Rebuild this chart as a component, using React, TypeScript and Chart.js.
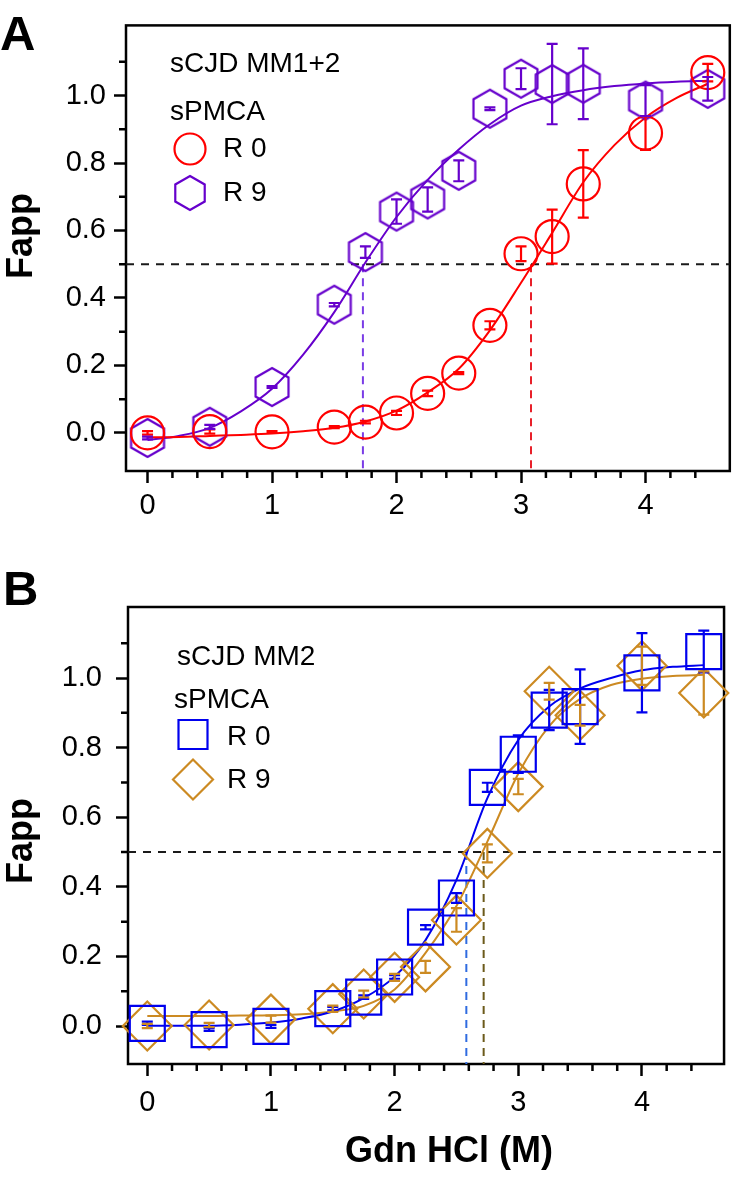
import React, { useEffect, useRef } from 'react';
import { Chart, registerables } from 'chart.js';

Chart.register(...registerables);

// ---------------- data ----------------
const GDN_HCL = [0, 0.5, 1, 1.5, 1.75, 2, 2.25, 2.5, 2.75, 3, 3.25, 3.5, 4, 4.5];
const FIT_X = [0, 0.25, 0.5, 0.75, 1, 1.25, 1.5, 1.75, 2, 2.25, 2.5, 2.75, 3, 3.25, 3.5, 3.75, 4, 4.25, 4.5];

const X_TICKS = [0, 1, 2, 3, 4];
const X_MINOR = [0.2, 0.4, 0.6, 0.8, 1.2, 1.4, 1.6, 1.8, 2.2, 2.4, 2.6, 2.8, 3.2, 3.4, 3.6, 3.8, 4.2, 4.4];
const Y_TICKS = [0, 0.2, 0.4, 0.6, 0.8, 1.0];
const Y_MINOR = [0.1, 0.3, 0.5, 0.7, 0.9, 1.1];
const HALF = 0.5;

// Panel A: sCJD MM1+2
const A_R0 = [0.0, 0.004, 0.003, 0.017, 0.032, 0.059, 0.117, 0.177, 0.319, 0.531, 0.582, 0.738, 0.889, 1.068];
const A_R0_ERR = [0.005, 0.006, 0.002, 0.003, 0.004, 0.006, 0.008, 0.003, 0.012, 0.022, 0.08, 0.1, 0.05, 0.026];
const A_R9 = [-0.015, 0.018, 0.136, 0.38, 0.536, 0.656, 0.692, 0.777, 0.961, 1.05, 1.034, 1.035, 0.985, 1.02];
const A_R9_ERR = [0.004, 0.006, 0.003, 0.005, 0.017, 0.036, 0.036, 0.031, 0.004, 0.031, 0.119, 0.105, 0.046, 0.035];
const A_R0_FIT = [-0.013, -0.012, -0.009, -0.006, -0.002, 0.005, 0.015, 0.034, 0.066, 0.12, 0.19, 0.304, 0.445, 0.593, 0.743, 0.853, 0.935, 0.993, 1.035];
const A_R9_FIT = [-0.021, -0.009, 0.015, 0.064, 0.131, 0.232, 0.358, 0.505, 0.64, 0.75, 0.84, 0.915, 0.97, 0.998, 1.016, 1.028, 1.036, 1.041, 1.044];
const A_MIDPOINTS = [3.08, 1.73];

// Panel B: sCJD MM2
const B_R0 = [0.008, -0.01, -0.001, 0.05, 0.083, 0.141, 0.284, 0.368, 0.686, 0.781, 0.908, 0.918, 1.015, 1.076];
const B_R0_ERR = [0.005, 0.004, 0.004, 0.005, 0.005, 0.005, 0.006, 0.014, 0.013, 0.054, 0.058, 0.107, 0.114, 0.06];
const B_R9 = [0.0, 0.003, 0.02, 0.05, 0.092, 0.14, 0.17, 0.305, 0.496, 0.688, 0.962, 0.893, 1.035, 0.957];
const B_R9_ERR = [0.006, 0.006, 0.01, 0.009, 0.01, 0.01, 0.017, 0.034, 0.026, 0.022, 0.024, 0.03, 0.055, 0.062];
const B_R0_FIT = [0.001, 0.001, 0.001, 0.004, 0.01, 0.022, 0.042, 0.08, 0.142, 0.247, 0.42, 0.655, 0.822, 0.918, 0.97, 1.0, 1.022, 1.032, 1.037];
const B_R9_FIT = [0.029, 0.029, 0.029, 0.03, 0.031, 0.034, 0.042, 0.058, 0.105, 0.21, 0.345, 0.53, 0.725, 0.862, 0.94, 0.98, 0.998, 1.006, 1.009];
const B_MIDPOINTS = [2.58, 2.72];

// ---------------- styles ----------------
const FONT = "'Liberation Sans', Arial, Helvetica, sans-serif";
const TICK_SIZE = 29;
const RED = '#ff0000';
const PURPLE = '#6600cc';
const BLUE = '#0000ee';
const GOLD = '#cc8a22';

Chart.defaults.font.family = FONT;
Chart.defaults.font.size = TICK_SIZE;
Chart.defaults.color = '#000';

type Marker = 'circle' | 'hex' | 'rect' | 'diamond';

interface Series {
  label: string;
  y: number[];
  err: number[];
  fit: number[];
  mid: number;
  color: string;
  dashColor: string;
  marker: Marker;
  size: number;
}

interface TextItem {
  t: string; x: number; y: number; font: string;
  align?: CanvasTextAlign; baseline?: CanvasTextBaseline; rotate?: number;
}

interface LegendMark { marker: Marker; color: string; x: number; y: number; size: number; }

interface PanelSpec {
  height: number;
  xMin: number; xMax: number; yMin: number; yMax: number;
  padTop: number; padRight: number; yAxisWidth: number; xAxisHeight: number;
  xTickPad: number; yTickPad: number;
  series: Series[];
  texts: TextItem[];
  legend: LegendMark[];
}

function hexPath(ctx: CanvasRenderingContext2D, cx: number, cy: number, R: number) {
  ctx.beginPath();
  for (let i = 0; i < 6; i++) {
    const a = -Math.PI / 2 + (i * Math.PI) / 3;
    const x = cx + R * Math.cos(a);
    const y = cy + R * Math.sin(a);
    if (i === 0) ctx.moveTo(x, y); else ctx.lineTo(x, y);
  }
  ctx.closePath();
}

function makeHexagon(R: number, color: string, lw: number): HTMLCanvasElement {
  const c = document.createElement('canvas');
  let w = Math.ceil(Math.sqrt(3) * R + lw * 2 + 2);
  let h = Math.ceil(2 * R + lw * 2 + 2);
  if (w % 2) w++;
  if (h % 2) h++;
  c.width = w; c.height = h;
  const ctx = c.getContext('2d')!;
  ctx.strokeStyle = color;
  ctx.lineWidth = lw;
  hexPath(ctx, w / 2, h / 2, R);
  ctx.stroke();
  return c;
}

function drawMarker(ctx: CanvasRenderingContext2D, m: LegendMark) {
  ctx.save();
  ctx.strokeStyle = m.color;
  ctx.lineWidth = 2.2;
  ctx.beginPath();
  if (m.marker === 'circle') {
    ctx.arc(m.x, m.y, m.size, 0, Math.PI * 2);
  } else if (m.marker === 'hex') {
    hexPath(ctx, m.x, m.y, m.size);
  } else if (m.marker === 'rect') {
    ctx.rect(m.x - m.size, m.y - m.size, m.size * 2, m.size * 2);
  } else {
    ctx.moveTo(m.x - m.size, m.y);
    ctx.lineTo(m.x, m.y - m.size);
    ctx.lineTo(m.x + m.size, m.y);
    ctx.lineTo(m.x, m.y + m.size);
    ctx.closePath();
  }
  ctx.stroke();
  ctx.restore();
}

function buildConfig(spec: PanelSpec): any {
  const datasets: any[] = [];
  spec.series.forEach((s) => {
    let pointStyle: any = 'circle';
    let pointRadius = s.size;
    if (s.marker === 'hex') { pointStyle = makeHexagon(s.size, s.color, 2.2); }
    else if (s.marker === 'rect') { pointStyle = 'rect'; pointRadius = s.size / Math.SQRT1_2; }
    else if (s.marker === 'diamond') { pointStyle = 'rectRot'; }
    datasets.push({
      label: s.label,
      data: GDN_HCL.map((x, i) => ({ x, y: s.y[i] })),
      errors: s.err,
      errorColor: s.color,
      showLine: false,
      pointStyle,
      pointRadius,
      pointBorderWidth: 2.2,
      borderColor: s.color,
      pointBorderColor: s.color,
      backgroundColor: 'rgba(0,0,0,0)',
      pointBackgroundColor: 'rgba(0,0,0,0)',
      clip: false,
    });
  });
  spec.series.forEach((s) => {
    datasets.push({
      label: s.label + ' fit',
      data: FIT_X.map((x, i) => ({ x, y: s.fit[i] })),
      showLine: true,
      pointRadius: 0,
      borderColor: s.color,
      borderWidth: 2,
      cubicInterpolationMode: 'monotone',
      fill: false,
    });
  });
  datasets.push({
    label: 'half',
    data: [{ x: spec.xMin, y: HALF }, { x: spec.xMax, y: HALF }],
    showLine: true,
    pointRadius: 0,
    borderColor: '#1a1a1a',
    borderWidth: 2,
    borderDash: [8, 7],
  });
  spec.series.forEach((s) => {
    datasets.push({
      label: s.label + ' midpoint',
      data: [{ x: s.mid, y: HALF }, { x: s.mid, y: spec.yMin }],
      showLine: true,
      pointRadius: 0,
      borderColor: s.dashColor,
      borderWidth: 2,
      borderDash: [8, 6],
    });
  });

  const errorBars = {
    id: 'errorBars',
    afterDatasetsDraw(chart: any) {
      const ctx = chart.ctx as CanvasRenderingContext2D;
      const xs = chart.scales.x;
      const ys = chart.scales.y;
      chart.data.datasets.forEach((ds: any) => {
        if (!ds.errors) return;
        ctx.save();
        ctx.strokeStyle = ds.errorColor;
        ctx.lineWidth = 2.2;
        ds.data.forEach((p: any, i: number) => {
          const e = ds.errors[i];
          const px = xs.getPixelForValue(p.x);
          const y1 = ys.getPixelForValue(p.y + e);
          const y2 = ys.getPixelForValue(p.y - e);
          ctx.beginPath();
          ctx.moveTo(px, y1); ctx.lineTo(px, y2);
          ctx.moveTo(px - 5.5, y1); ctx.lineTo(px + 5.5, y1);
          ctx.moveTo(px - 5.5, y2); ctx.lineTo(px + 5.5, y2);
          ctx.stroke();
        });
        ctx.restore();
      });
    },
  };

  const decor = {
    id: 'decor',
    beforeDatasetsDraw(chart: any) {
      const ctx = chart.ctx as CanvasRenderingContext2D;
      const a = chart.chartArea;
      ctx.save();
      ctx.strokeStyle = '#000';
      ctx.lineWidth = 2.5;
      ctx.strokeRect(a.left, a.top, a.right - a.left, a.bottom - a.top);
      const xs = chart.scales.x;
      const ys = chart.scales.y;
      ctx.beginPath();
      X_MINOR.forEach((v) => {
        const px = xs.getPixelForValue(v);
        ctx.moveTo(px, a.bottom);
        ctx.lineTo(px, a.bottom + 7);
      });
      Y_MINOR.forEach((v) => {
        const py = ys.getPixelForValue(v);
        ctx.moveTo(a.left, py);
        ctx.lineTo(a.left - 7, py);
      });
      ctx.stroke();
      ctx.restore();
    },
    afterDraw(chart: any) {
      const ctx = chart.ctx as CanvasRenderingContext2D;
      ctx.save();
      ctx.fillStyle = '#000';
      spec.texts.forEach((t) => {
        ctx.save();
        ctx.font = t.font;
        ctx.textAlign = t.align || 'left';
        ctx.textBaseline = t.baseline || 'middle';
        ctx.translate(t.x, t.y);
        if (t.rotate) ctx.rotate(t.rotate);
        ctx.fillText(t.t, 0, 0);
        ctx.restore();
      });
      spec.legend.forEach((m) => drawMarker(ctx, m));
      ctx.restore();
    },
  };

  const tickFont = { family: FONT, size: TICK_SIZE, weight: 'normal', lineHeight: 1.2 };

  return {
    type: 'scatter',
    data: { datasets },
    plugins: [decor, errorBars],
    options: {
      responsive: false,
      animation: false,
      events: [],
      font: tickFont,
      layout: { padding: { top: spec.padTop, right: spec.padRight, left: 0, bottom: 0 } },
      plugins: { legend: { display: false }, tooltip: { enabled: false }, title: { display: false } },
      scales: {
        x: {
          type: 'linear',
          min: spec.xMin,
          max: spec.xMax,
          afterBuildTicks: (s: any) => { s.ticks = X_TICKS.map((v) => ({ value: v })); },
          afterFit: (s: any) => { s.height = spec.xAxisHeight; },
          grid: { display: true, drawOnChartArea: false, drawTicks: true, tickLength: 12, tickWidth: 2.5, tickColor: '#000' },
          border: { display: false },
          ticks: {
            color: '#000',
            font: tickFont,
            padding: spec.xTickPad,
            maxRotation: 0,
            minRotation: 0,
            autoSkip: false,
            callback: (v: number) => String(v),
          },
        },
        y: {
          type: 'linear',
          min: spec.yMin,
          max: spec.yMax,
          afterBuildTicks: (s: any) => { s.ticks = Y_TICKS.map((v) => ({ value: v })); },
          afterFit: (s: any) => { s.width = spec.yAxisWidth; },
          grid: { display: true, drawOnChartArea: false, drawTicks: true, tickLength: 12, tickWidth: 2.5, tickColor: '#000' },
          border: { display: false },
          ticks: {
            color: '#000',
            font: tickFont,
            padding: spec.yTickPad,
            autoSkip: false,
            callback: (v: number) => v.toFixed(1),
          },
        },
      },
    },
  };
}

const LEG_FONT = `28px ${FONT}`;
const BOLD_TITLE = `bold 36px ${FONT}`;
const PANEL_FONT = `bold 49px ${FONT}`;

const PANEL_A: PanelSpec = {
  height: 560,
  xMin: -0.173, xMax: 4.677, yMin: -0.113, yMax: 1.208,
  padTop: 14, padRight: 9, yAxisWidth: 126, xAxisHeight: 89,
  xTickPad: 6, yTickPad: 8,
  series: [
    { label: 'R 0', y: A_R0, err: A_R0_ERR, fit: A_R0_FIT, mid: A_MIDPOINTS[0], color: RED, dashColor: '#e8202a', marker: 'circle', size: 16.5 },
    { label: 'R 9', y: A_R9, err: A_R9_ERR, fit: A_R9_FIT, mid: A_MIDPOINTS[1], color: PURPLE, dashColor: '#7a3ce6', marker: 'hex', size: 19 },
  ],
  texts: [
    { t: 'A', x: 0, y: 50, font: PANEL_FONT, baseline: 'alphabetic' },
    { t: 'Fapp', x: 22, y: 236, font: BOLD_TITLE, align: 'center', rotate: -Math.PI / 2 },
    { t: 'sCJD MM1+2', x: 170, y: 64, font: LEG_FONT },
    { t: 'sPMCA', x: 170, y: 112, font: LEG_FONT },
    { t: 'R 0', x: 223, y: 149, font: LEG_FONT },
    { t: 'R 9', x: 223, y: 193, font: LEG_FONT },
  ],
  legend: [
    { marker: 'circle', color: RED, x: 190, y: 149, size: 15.5 },
    { marker: 'hex', color: PURPLE, x: 190, y: 193, size: 17 },
  ],
};

const PANEL_B: PanelSpec = {
  height: 623,
  xMin: -0.156, xMax: 4.664, yMin: -0.109, yMax: 1.204,
  padTop: 47, padRight: 6, yAxisWidth: 128, xAxisHeight: 119,
  xTickPad: 10, yTickPad: 14,
  series: [
    { label: 'R 0', y: B_R0, err: B_R0_ERR, fit: B_R0_FIT, mid: B_MIDPOINTS[0], color: BLUE, dashColor: '#2f6be0', marker: 'rect', size: 17.5 },
    { label: 'R 9', y: B_R9, err: B_R9_ERR, fit: B_R9_FIT, mid: B_MIDPOINTS[1], color: GOLD, dashColor: '#6b5a1a', marker: 'diamond', size: 24.5 },
  ],
  texts: [
    { t: 'B', x: 3, y: 45, font: PANEL_FONT, baseline: 'alphabetic' },
    { t: 'Fapp', x: 22, y: 281, font: BOLD_TITLE, align: 'center', rotate: -Math.PI / 2 },
    { t: 'Gdn HCl (M)', x: 449, y: 592, font: BOLD_TITLE, align: 'center' },
    { t: 'sCJD MM2', x: 177, y: 97, font: LEG_FONT },
    { t: 'sPMCA', x: 174, y: 140, font: LEG_FONT },
    { t: 'R 0', x: 227, y: 177, font: LEG_FONT },
    { t: 'R 9', x: 227, y: 220, font: LEG_FONT },
  ],
  legend: [
    { marker: 'rect', color: BLUE, x: 193, y: 174.5, size: 14.5 },
    { marker: 'diamond', color: GOLD, x: 193, y: 219.5, size: 20 },
  ],
};

function Panel({ spec, top }: { spec: PanelSpec; top: number }) {
  const ref = useRef<HTMLCanvasElement | null>(null);
  useEffect(() => {
    if (!ref.current) return;
    const chart = new Chart(ref.current, buildConfig(spec));
    return () => chart.destroy();
  }, [spec]);
  return (
    <div style={{ position: 'absolute', left: 0, top, width: 751, height: spec.height }}>
      <canvas ref={ref} width={751} height={spec.height} style={{ display: 'block', width: 751, height: spec.height }} />
    </div>
  );
}

export default function App() {
  return (
    <div style={{ position: 'absolute', left: 0, top: 0, width: 751, height: 1183, background: '#fff', overflow: 'hidden' }}>
      <Panel spec={PANEL_A} top={0} />
      <Panel spec={PANEL_B} top={560} />
    </div>
  );
}
